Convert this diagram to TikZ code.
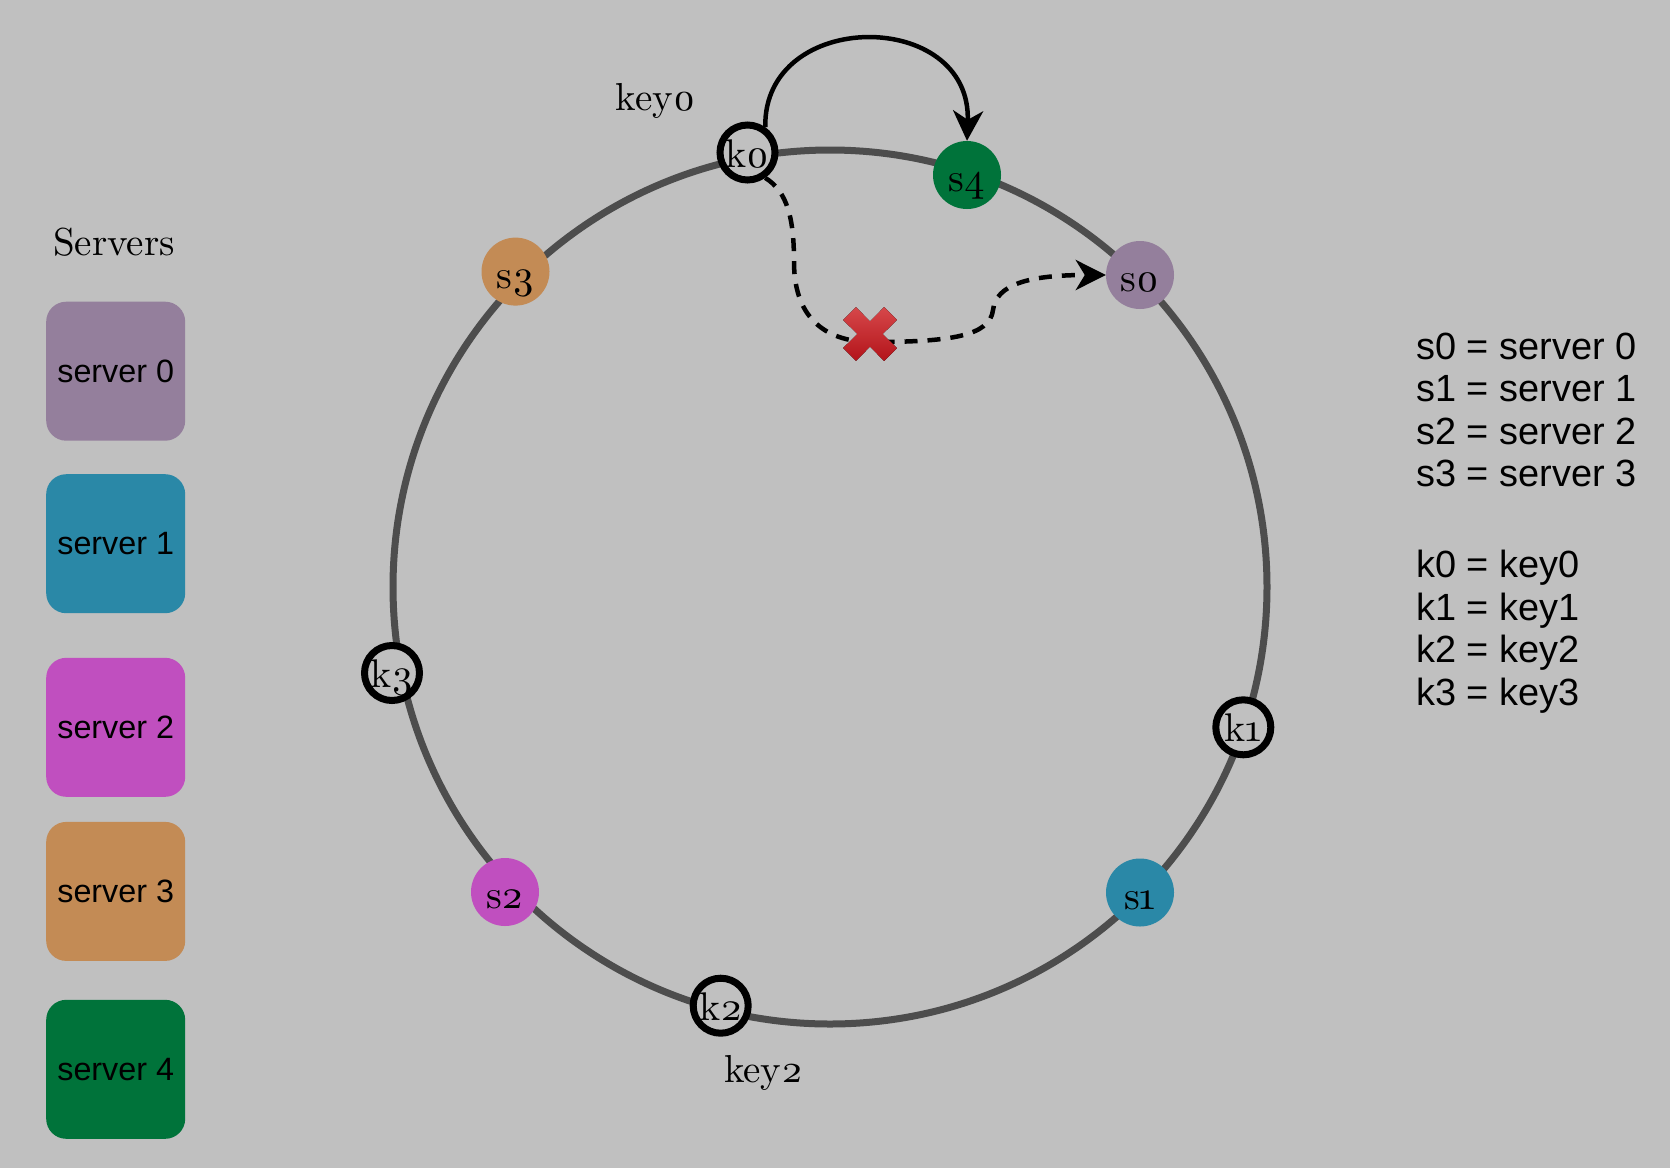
\documentclass[tikz,border=0pt]{standalone}
\usepackage{fontspec}
\newfontfamily\arial{Liberation Sans}
\newfontfamily\lmten{lmroman10-regular.otf}[Numbers=OldStyle]
\usetikzlibrary{arrows.meta}
\definecolor{bg}{HTML}{C0C0C0}
\definecolor{ringc}{HTML}{4D4D4D}
\definecolor{cs0}{HTML}{947F9C}
\definecolor{cs1}{HTML}{2A88A7}
\definecolor{cs2}{HTML}{C04FBF}
\definecolor{cs3}{HTML}{C38B55}
\definecolor{cs4}{HTML}{00733A}
\definecolor{xlight}{HTML}{D6484A}
\definecolor{xdark}{HTML}{B3131A}
\begin{document}
\begin{tikzpicture}[x=1pt,y=-1pt,
  srv/.style={circle,inner sep=0pt,minimum size=68pt,text height=33pt,text depth=0pt,font=\lmten\fontsize{40}{40}\selectfont},
  keyc/.style={circle,draw=black,line width=7pt,fill=bg,inner sep=0pt,minimum size=55pt,text height=29pt,text depth=0pt,font=\lmten\fontsize{40}{40}\selectfont},
  srvbox/.style={rounded corners=20pt,inner sep=0pt,minimum width=139pt,minimum height=139pt,font=\arial\fontsize{32.3}{32.3}\selectfont},
  legtext/.style={anchor=base west,inner sep=0pt,font=\arial\fontsize{37.9}{37.9}\selectfont},
  lbl/.style={anchor=base,inner sep=0pt,font=\lmten\fontsize{39}{39}\selectfont},
  ringline/.style={draw=ringc,line width=7pt},
  arr/.style={line width=4.5pt,-{Stealth[length=30pt,width=30pt,inset=9pt]}},
]
\useasboundingbox (0,0) rectangle (1670,1168);
\fill[bg] (0,0) rectangle (1670,1168);

% ring
\draw[ringline] (830,587) circle[radius=437pt];

% server points
\node[srv,fill=cs4] (s4) at (967,175) {s4};
\node[srv,fill=cs0] (s0) at (1140,275) {s0};
\node[srv,fill=cs3] (s3) at (515.5,271.6) {s3};
\node[srv,fill=cs1] (s1) at (1140,892.5) {s1};
\node[srv,fill=cs2] (s2) at (505,892) {s2};

% keys
\node[keyc] (k0) at (747.5,152.5) {k0};
\node[keyc] (k1) at (1243.3,727.3) {k1};
\node[keyc] (k2) at (720.7,1005.7) {k2};
\node[keyc] (k3) at (392,673) {k3};

% labels
\node[lbl] (lkey0) at (655.6,110) {key0};
\node[lbl] (lkey2) at (763.6,1082) {key2};
\node[lbl] (lservers) at (114,255) {Servers};

% server boxes
\node[srvbox,fill=cs0] (b0) at (115.7,371.2) {server 0};
\node[srvbox,fill=cs1] (b1) at (115.7,543.7) {server 1};
\node[srvbox,fill=cs2] (b2) at (115.7,727.3) {server 2};
\node[srvbox,fill=cs3] (b3) at (115.7,891.4) {server 3};
\node[srvbox,fill=cs4] (b4) at (115.7,1069.3) {server 4};

% legend
\node[legtext] (g0) at (1416,359.3) {s0 = server 0};
\node[legtext] (g1) at (1416,401.7) {s1 = server 1};
\node[legtext] (g2) at (1416,444.3) {s2 = server 2};
\node[legtext] (g3) at (1416,486.7) {s3 = server 3};
\node[legtext] (h0) at (1416,577.7) {k0 = key0};
\node[legtext] (h1) at (1416,620) {k1 = key1};
\node[legtext] (h2) at (1416,662.3) {k2 = key2};
\node[legtext] (h3) at (1416,705) {k3 = key3};

% solid arrow k0 -> s4
\draw[arr] (k0.55) .. controls (763,8) and (972,8) .. (s4.north);

% dashed arrow k0 -> s0
\draw[arr,dash pattern=on 13pt off 10pt] (k0.-55) .. controls (788,192) and (794,220) .. (794,262)
  .. controls (794,322) and (830,342) .. (872,342)
  .. controls (950,342) and (990,336) .. (993,310)
  .. controls (996,284) and (1030,275) .. (s0.west);

% red cross
\begin{scope}[shift={(870,334)}]
\fill[top color=xlight,bottom color=xdark]
  (12.7,0) -- (26.9,14.1) -- (14.1,26.9) -- (0,12.7) -- (-14.1,26.9) -- (-26.9,14.1)
  -- (-12.7,0) -- (-26.9,-14.1) -- (-14.1,-26.9) -- (0,-12.7) -- (14.1,-26.9) -- (26.9,-14.1) -- cycle;
\end{scope}
\end{tikzpicture}
\end{document}
